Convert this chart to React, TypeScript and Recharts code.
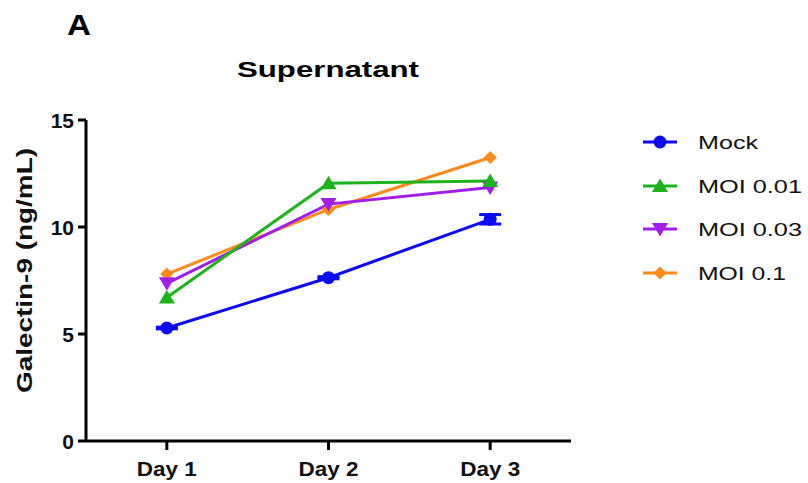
import React from 'react';
import { LineChart, Line, XAxis, YAxis, Legend, ErrorBar } from 'recharts';

const days = ['Day 1', 'Day 2', 'Day 3'];
const dayIndex = [1, 2, 3];
const mock = [5.28, 7.63, 10.36];
const mockErr = [0.04, 0.05, 0.22];
const moi001 = [6.71, 12.04, 12.15];
const moi003 = [7.37, 11.07, 11.85];
const moi01 = [7.8, 10.82, 13.25];
const yTicks = [0, 5, 10, 15];
const seriesNames = ['Mock', 'MOI 0.01', 'MOI 0.03', 'MOI 0.1'];

const data = dayIndex.map((d, i) => ({
  day: d,
  mock: mock[i],
  mockErr: mockErr[i],
  moi001: moi001[i],
  moi003: moi003[i],
  moi01: moi01[i],
}));

const FONT = '"Liberation Sans", Arial, Helvetica, sans-serif';

const series = [
  { key: 'mock', name: seriesNames[0], color: '#0a0af5', shape: 'circle', legendW: 60 },
  { key: 'moi001', name: seriesNames[1], color: '#1db31d', shape: 'up', legendW: 104 },
  { key: 'moi003', name: seriesNames[2], color: '#a21ee8', shape: 'down', legendW: 104 },
  { key: 'moi01', name: seriesNames[3], color: '#ff8a1c', shape: 'diamond', legendW: 88 },
];

function Marker({ shape, cx, cy, color }: any) {
  if (cx == null || cy == null) return null;
  if (shape === 'circle') return <circle cx={cx} cy={cy} r={6.5} fill={color} />;
  if (shape === 'up')
    return <polygon points={`${cx},${cy - 7.5} ${cx + 8},${cy + 6} ${cx - 8},${cy + 6}`} fill={color} />;
  if (shape === 'down')
    return <polygon points={`${cx - 8},${cy - 6} ${cx + 8},${cy - 6} ${cx},${cy + 7.5}`} fill={color} />;
  return <polygon points={`${cx},${cy - 6.5} ${cx + 6.5},${cy} ${cx},${cy + 6.5} ${cx - 6.5},${cy}`} fill={color} />;
}

function XTick({ x, y, payload }: any) {
  return (
    <text x={x} y={y + 24} textAnchor="middle" fontSize={21} fontWeight="bold" fontFamily={FONT} fill="#111" textLength={60} lengthAdjust="spacingAndGlyphs">
      {days[payload.value - 1]}
    </text>
  );
}

function YTick({ x, y, payload }: any) {
  return (
    <text x={x} y={y + 7.5} textAnchor="end" fontSize={21} fontWeight="bold" fontFamily={FONT} fill="#111">
      {payload.value}
    </text>
  );
}

const rowY = [22, 66, 109, 153];

function renderLegend() {
  return (
    <svg width={168} height={175} style={{ display: 'block' }}>
      {series.map((s, i) => (
        <g key={s.key}>
          <line x1={3} x2={37} y1={rowY[i]} y2={rowY[i]} stroke={s.color} strokeWidth={3} />
          <Marker shape={s.shape} cx={20} cy={rowY[i]} color={s.color} />
          <text x={58} y={rowY[i] + 6.5} fontSize={19} fontFamily={FONT} fill="#111" textLength={s.legendW} lengthAdjust="spacingAndGlyphs">
            {s.name}
          </text>
        </g>
      ))}
    </svg>
  );
}

const drawOrder = [3, 2, 1, 0];

export default function App() {
  return (
    <div style={{ position: 'absolute', left: 0, top: 0, width: 808, height: 483, background: '#fff' }}>
      <LineChart width={808} height={483} data={data} margin={{ top: 120, right: 237, bottom: 0, left: 0 }}>
        <XAxis
          dataKey="day"
          type="number"
          domain={[0.5, 3.5]}
          ticks={dayIndex}
          height={42}
          tickSize={9}
          tickMargin={2}
          axisLine={{ stroke: '#000', strokeWidth: 3 }}
          tickLine={{ stroke: '#000', strokeWidth: 3 }}
          tick={<XTick />}
          allowDataOverflow
        />
        <YAxis
          type="number"
          domain={[0, 15]}
          ticks={yTicks}
          width={86}
          tickSize={8}
          tickMargin={4}
          axisLine={{ stroke: '#000', strokeWidth: 3 }}
          tickLine={{ stroke: '#000', strokeWidth: 3 }}
          tick={<YTick />}
          allowDataOverflow
        />
        <Legend layout="vertical" align="center" verticalAlign="middle" content={renderLegend}
          wrapperStyle={{ left: 640, top: 120, width: 168, height: 175 }} />
        {drawOrder.map((idx) => {
          const s = series[idx];
          return (
            <Line
              key={s.key}
              dataKey={s.key}
              name={s.name}
              stroke={s.color}
              strokeWidth={3}
              isAnimationActive={false}
              dot={(p: any) => <Marker key={`${s.key}-${p.index}`} shape={s.shape} cx={p.cx} cy={p.cy} color={s.color} />}
              activeDot={false}
            >
              {s.key === 'mock' ? (
                <ErrorBar dataKey="mockErr" direction="y" width={11} strokeWidth={3} stroke={s.color} isAnimationActive={false} />
              ) : null}
            </Line>
          );
        })}
      </LineChart>
      <svg width={808} height={483} style={{ position: 'absolute', left: 0, top: 0, pointerEvents: 'none' }}>
        <text x={67} y={35} fontSize={30} fontWeight="bold" fontFamily={FONT} fill="#000" textLength={24} lengthAdjust="spacingAndGlyphs">A</text>
        <text x={328} y={77} textAnchor="middle" fontSize={22} fontWeight="bold" fontFamily={FONT} fill="#000" textLength={182} lengthAdjust="spacingAndGlyphs">Supernatant</text>
        <text x={32} y={270.5} transform="rotate(-90 32 270.5)" textAnchor="middle" fontSize={22} fontWeight="bold" fontFamily={FONT} fill="#111" textLength={245} lengthAdjust="spacingAndGlyphs">Galectin-9 (ng/mL)</text>
      </svg>
    </div>
  );
}
